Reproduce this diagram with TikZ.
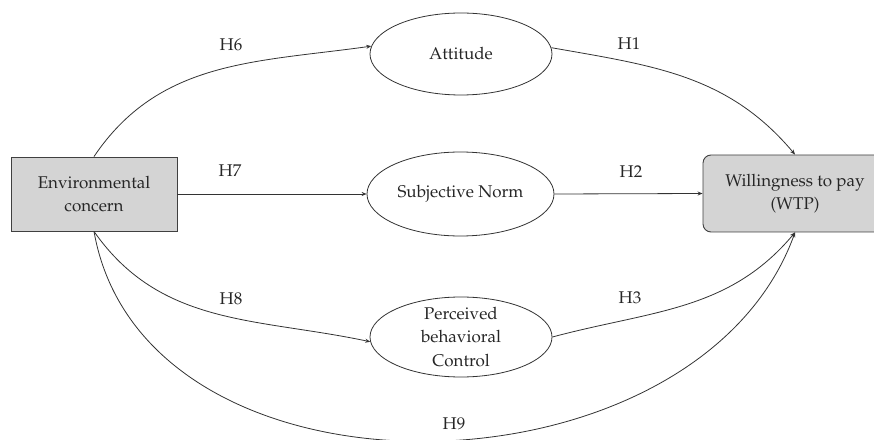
\documentclass[tikz,border=0pt]{standalone}
\usepackage[T1]{fontenc}
\renewcommand{\rmdefault}{ppl}
\usetikzlibrary{arrows.meta,shapes.geometric}
\begin{document}
\begin{tikzpicture}[x=1pt,y=1pt,
  every node/.style={font=\fontsize{17}{23.5}\selectfont, text=black!85},
  box/.style={draw=black!75, fill=black!17, line width=0.9pt,
    minimum width=166pt, minimum height=74pt, inner sep=0pt, align=center},
  oval/.style={ellipse, draw=black!80, line width=0.8pt, inner sep=0pt, align=center},
  conn/.style={draw=black!80, line width=0.8pt, -{Stealth[length=5pt,width=4pt]}},
  hlab/.style={inner sep=1pt}
]
\useasboundingbox (0,0) rectangle (874,439);
\clip (0,0) rectangle (874,439);

% constructs
\node[box] (ec) at (94,245) {Environmental\\concern};
\node[box, rounded corners=8pt, minimum width=184pt, minimum height=77pt]
  (wtp) at (795,245.5) {Willingness to pay\\(WTP)};
\node[oval, minimum width=182pt, minimum height=82pt] (att) at (461,385) {Attitude};
\node[oval, minimum width=187pt, minimum height=84pt] (sn) at (460.5,245) {Subjective Norm};
\node[oval, minimum width=182pt, minimum height=80pt,
  label={[align=center]center:Perceived\\behavioral\\Control}] (pbc) at (461,102) {};

% hypothesised paths
\draw[conn] (ec.north) to[out=56,in=188] (att.175);
\draw[conn] (att.4) to[out=-10,in=130] (wtp.north);
\draw[conn] (ec.east) -- (sn.west);
\draw[conn] (sn.east) -- (wtp.west);
\draw[conn] (ec.south) to[out=-55,in=168] (pbc.183);
\draw[conn] (pbc.0) to[out=15,in=230] (wtp.south);
\draw[conn] (ec.south) to[out=-80,in=250,looseness=1.06] (wtp.south);

% path labels
\node[hlab] (h6) at (231,394) {H6};
\node[hlab] (h1) at (629,395) {H1};
\node[hlab] (h7) at (230,268) {H7};
\node[hlab] (h2) at (631,267) {H2};
\node[hlab] (h8) at (231,140) {H8};
\node[hlab] (h3) at (630,141) {H3};
\node[hlab] (h9) at (454,15) {H9};
\end{tikzpicture}
\end{document}
